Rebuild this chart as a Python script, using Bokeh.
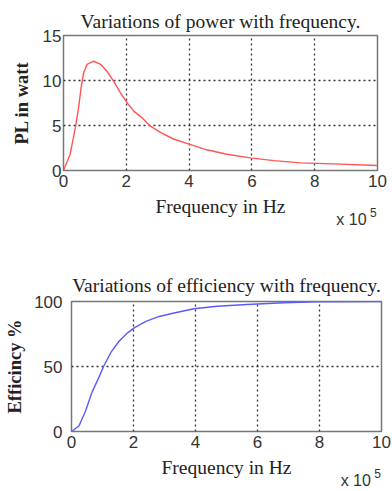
from bokeh.plotting import figure
from bokeh.layouts import column, row
from bokeh.models import Range1d, FixedTicker, Title, LinearAxis
from bokeh.embed import file_html
from bokeh.resources import INLINE

# Frequency in units of 1e5 Hz
freq_power = [0.0, 0.21, 0.375, 0.48, 0.56, 0.64, 0.75, 0.96, 1.18, 1.39, 1.6, 1.82, 2.03,
              2.24, 2.5, 2.78, 3.1, 3.5, 4.03, 4.56, 5.2, 5.95, 6.7, 7.55, 8.6, 10.0]
power_w = [0.0, 1.78, 4.7, 6.96, 9.2, 10.85, 11.8, 12.14, 11.8, 11.0, 9.9, 8.6, 7.5,
           6.6, 5.85, 4.9, 4.2, 3.5, 2.9, 2.3, 1.8, 1.4, 1.1, 0.85, 0.74, 0.55]

freq_eff = [0.0, 0.24, 0.45, 0.67, 0.89, 1.05, 1.27, 1.54, 1.81, 2.02, 2.4, 2.83, 3.27,
            3.95, 4.7, 5.67, 6.85, 7.9, 10.0]
efficiency_pct = [0.0, 4.2, 15.6, 30.7, 42.0, 50.8, 60.8, 69.6, 75.9, 79.7, 84.7, 88.5,
                  91.0, 94.4, 96.4, 97.7, 99.0, 99.7, 100.0]

x_ticks = [0, 2, 4, 6, 8, 10]
power_ticks = [0, 5, 10, 15]
eff_ticks = [0, 50, 100]

SERIF = "Liberation Serif"
SANS = "Liberation Sans"
TEXT = "#222222"
TICK_TEXT = "#333333"


def plain_axis(ax):
    ax.axis_line_color = None
    ax.major_tick_line_color = None
    ax.minor_tick_line_color = None
    ax.major_tick_out = 0
    ax.major_tick_in = 0
    ax.minor_tick_out = 0
    ax.minor_tick_in = 0


def exponent_note(p, pos_base, pos_exp):
    # "x 10^5" multiplier under the right end of the frequency axis
    base = LinearAxis(ticker=FixedTicker(ticks=[pos_base]),
                      major_label_overrides={pos_base: "x 10"})
    expo = LinearAxis(ticker=FixedTicker(ticks=[pos_exp]),
                      major_label_overrides={pos_exp: "5"})
    for ax, size, standoff in ((base, "16px", -9), (expo, "12px", -23)):
        plain_axis(ax)
        ax.major_label_text_font = SANS
        ax.major_label_text_font_size = size
        ax.major_label_text_color = TICK_TEXT
        ax.major_label_standoff = standoff
        p.add_layout(ax, "below")


def make_panel(title, ylabel, yticks, ymax, height, top, bottom, left, right,
               title_standoff, ytick_standoff, ylabel_standoff):
    p = figure(width=392, height=height, output_backend="svg", toolbar_location=None,
               x_range=Range1d(0, 10), y_range=Range1d(0, ymax),
               min_border_top=top, min_border_bottom=bottom,
               min_border_left=left, min_border_right=right)
    t = Title(text=title, align="center", text_font=SERIF, text_font_size="19.5px",
              text_font_style="normal", text_color=TEXT, standoff=title_standoff)
    p.add_layout(t, "above")
    p.xaxis.ticker = FixedTicker(ticks=x_ticks)
    p.yaxis.ticker = FixedTicker(ticks=yticks)
    for ax in (p.xaxis, p.yaxis):
        plain_axis(ax)
        ax.major_label_text_font = SANS
        ax.major_label_text_font_size = "17px"
        ax.major_label_text_color = TICK_TEXT
        ax.axis_label_text_font = SERIF
        ax.axis_label_text_color = TEXT
        ax.axis_label_text_font_size = "19.5px"
    p.xaxis.axis_label = "Frequency in Hz"
    p.xaxis.axis_label_text_font_style = "normal"
    p.xaxis.major_label_standoff = 4
    p.xaxis.axis_label_standoff = 6
    p.yaxis.axis_label = ylabel
    p.yaxis.axis_label_text_font_style = "bold"
    p.yaxis.axis_label_text_font_size = "18.5px"
    p.yaxis.major_label_standoff = ytick_standoff
    p.yaxis.axis_label_standoff = ylabel_standoff
    p.xgrid.grid_line_color = "#333333"
    p.ygrid.grid_line_color = "#333333"
    p.xgrid.grid_line_dash = "2 3"
    p.ygrid.grid_line_dash = "2 3"
    p.xgrid.grid_line_width = 1.3
    p.ygrid.grid_line_width = 1.3
    p.outline_line_color = "#777777"
    p.outline_line_width = 1.5
    p.background_fill_color = "white"
    p.border_fill_color = "white"
    exponent_note(p, 9.17, 9.87)
    return p


p1 = make_panel("Variations of power with frequency.", "PL in watt", power_ticks, 15,
                230, 35, 60, 63, 15, 8, 2, 8)
p1.line(freq_power, power_w, line_color="#ff5555", line_width=1.4)

p2 = make_panel("Variations of efficiency with frequency.", "Efficincy %", eff_ticks, 100,
                261, 71, 57, 71, 11, 11, 9, 6)
p2.line(freq_eff, efficiency_pct, line_color="#5a5aff", line_width=1.4)

# each panel in its own row so the two frames keep independent margins
layout = column(row(p1), row(p2), spacing=0)
open("out.html", "w").write(file_html(layout, INLINE))
